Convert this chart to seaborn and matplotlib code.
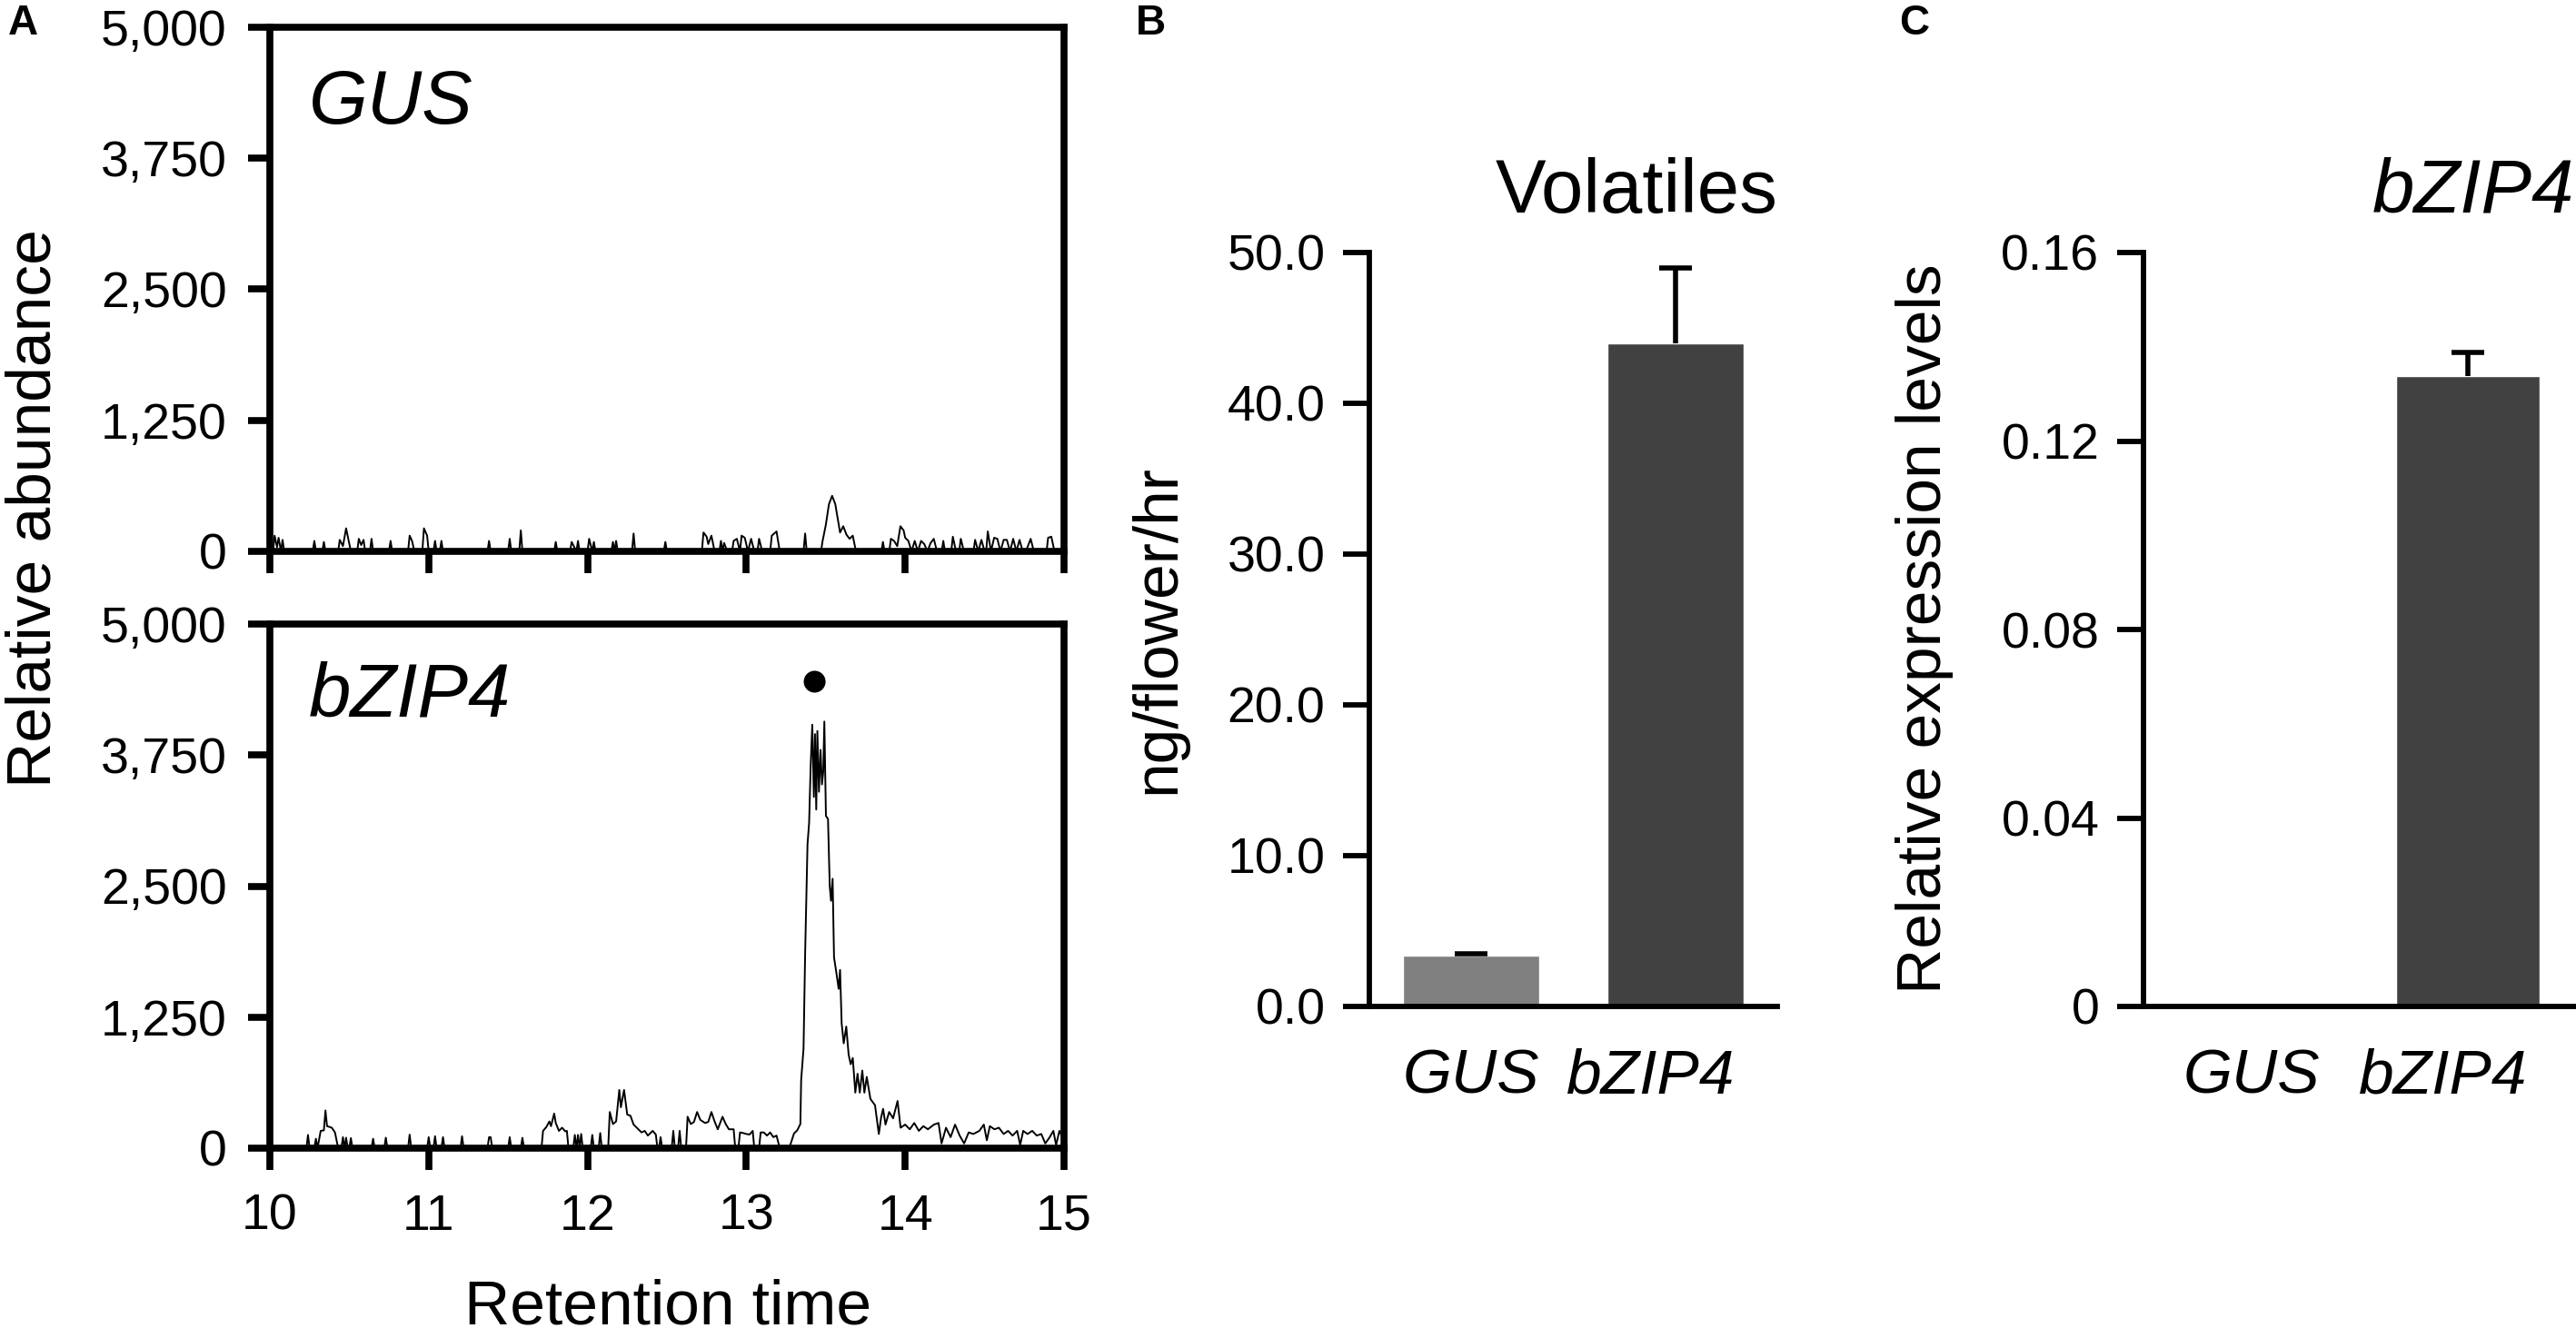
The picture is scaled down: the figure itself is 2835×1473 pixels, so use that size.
import pandas as pd
import matplotlib.pyplot as plt
import matplotlib.ticker as mticker
import matplotlib.transforms as mtransforms
import seaborn as sns

# ---- data ----
# (A) chromatograms, retention time (min) vs relative abundance
gus_time = [10.00, 10.02, 10.03, 10.045, 10.055, 10.07, 10.08, 10.09, 10.27, 10.28,
            10.29, 10.33, 10.34, 10.35, 10.43, 10.44, 10.46, 10.48, 10.495, 10.51,
            10.55, 10.56, 10.575, 10.59, 10.60, 10.63, 10.64, 10.65, 10.75, 10.76,
            10.77, 10.87, 10.88, 10.895, 10.91, 10.96, 10.97, 10.99, 11.00, 11.03,
            11.04, 11.05, 11.07, 11.08, 11.09, 11.37, 11.38, 11.39, 11.50, 11.51,
            11.52, 11.57, 11.58, 11.59, 11.79, 11.80, 11.81, 11.89, 11.90, 11.93,
            11.94, 11.95, 12.00, 12.01, 12.03, 12.04, 12.05, 12.15, 12.16, 12.17,
            12.18, 12.19, 12.28, 12.29, 12.30, 12.48, 12.49, 12.50, 12.72, 12.73,
            12.75, 12.76, 12.78, 12.80, 12.83, 12.84, 12.85, 12.86, 12.88, 12.91,
            12.92, 12.94, 12.96, 12.97, 12.99, 13.01, 13.03, 13.05, 13.07, 13.08,
            13.10, 13.15, 13.16, 13.19, 13.21, 13.36, 13.37, 13.38, 13.47, 13.48,
            13.50, 13.52, 13.54, 13.56, 13.58, 13.59, 13.61, 13.63, 13.65, 13.67,
            13.69, 13.85, 13.86, 13.87, 13.90, 13.91, 13.93, 13.95, 13.97, 13.99,
            14.00, 14.02, 14.04, 14.06, 14.08, 14.10, 14.12, 14.14, 14.16, 14.18,
            14.20, 14.23, 14.24, 14.25, 14.29, 14.30, 14.32, 14.34, 14.35, 14.37,
            14.43, 14.44, 14.46, 14.48, 14.50, 14.51, 14.52, 14.54, 14.56, 14.58,
            14.60, 14.62, 14.64, 14.66, 14.68, 14.70, 14.72, 14.74, 14.76, 14.79,
            14.81, 14.89, 14.90, 14.92, 14.94, 15.00]
gus_abund = [0, 0, 150, 40, 130, 0, 110, 0, 0, 100,
             0, 0, 90, 0, 0, 110, 50, 220, 110, 0,
             0, 120, 60, 110, 0, 0, 120, 0, 0, 100,
             0, 0, 150, 100, 0, 0, 220, 150, 0, 0,
             100, 0, 0, 100, 0, 0, 100, 0, 0, 120,
             0, 0, 200, 0, 0, 90, 0, 0, 90, 0,
             100, 0, 0, 120, 0, 90, 0, 0, 90, 0,
             100, 0, 0, 170, 0, 0, 90, 0, 0, 180,
             140, 70, 150, 0, 0, 100, 0, 80, 0, 0,
             100, 120, 0, 150, 130, 0, 120, 0, 0, 120,
             0, 0, 150, 190, 0, 0, 170, 0, 0, 100,
             250, 450, 530, 450, 270, 180, 240, 160, 120, 150,
             0, 0, 90, 0, 0, 120, 100, 50, 240, 200,
             130, 100, 0, 100, 0, 100, 70, 0, 80, 120,
             0, 0, 100, 0, 0, 140, 0, 0, 120, 0,
             0, 110, 0, 110, 0, 0, 190, 0, 130, 120,
             0, 110, 110, 0, 120, 0, 110, 0, 0, 120,
             0, 0, 130, 140, 0, 0]

bzip_time = [10.00, 10.23, 10.24, 10.25, 10.28, 10.29, 10.30, 10.32, 10.34, 10.35,
             10.36, 10.38, 10.39, 10.41, 10.43, 10.45, 10.46, 10.47, 10.48, 10.49,
             10.50, 10.51, 10.52, 10.64, 10.65, 10.66, 10.72, 10.73, 10.74, 10.87,
             10.88, 10.89, 10.99, 11.00, 11.01, 11.03, 11.04, 11.05, 11.08, 11.09,
             11.10, 11.20, 11.21, 11.22, 11.37, 11.38, 11.39, 11.40, 11.50, 11.51,
             11.52, 11.58, 11.59, 11.60, 11.71, 11.72, 11.74, 11.76, 11.77, 11.79,
             11.80, 11.82, 11.84, 11.86, 11.87, 11.88, 11.91, 11.92, 11.93, 11.94,
             11.95, 11.96, 11.97, 12.02, 12.03, 12.04, 12.07, 12.08, 12.09, 12.13,
             12.14, 12.16, 12.18, 12.20, 12.21, 12.23, 12.25, 12.27, 12.29, 12.32,
             12.34, 12.36, 12.38, 12.41, 12.43, 12.44, 12.45, 12.46, 12.47, 12.53,
             12.54, 12.55, 12.57, 12.58, 12.59, 12.62, 12.63, 12.65, 12.67, 12.69,
             12.71, 12.74, 12.76, 12.78, 12.80, 12.82, 12.85, 12.87, 12.89, 12.92,
             12.93, 12.95, 12.96, 12.98, 13.00, 13.02, 13.04, 13.05, 13.08, 13.09,
             13.11, 13.13, 13.15, 13.17, 13.19, 13.21, 13.27, 13.30, 13.32, 13.34,
             13.345, 13.36, 13.37, 13.385, 13.395, 13.405, 13.415, 13.425, 13.432, 13.44,
             13.447, 13.457, 13.467, 13.476, 13.484, 13.491, 13.501, 13.514, 13.525, 13.533,
             13.543, 13.552, 13.567, 13.581, 13.59, 13.60, 13.613, 13.629, 13.644, 13.657,
             13.67, 13.686, 13.70, 13.714, 13.73, 13.743, 13.758, 13.781, 13.81, 13.834,
             13.848, 13.861, 13.876, 13.899, 13.924, 13.952, 13.971, 14.00, 14.029, 14.057,
             14.086, 14.114, 14.143, 14.181, 14.21, 14.229, 14.257, 14.286, 14.314, 14.343,
             14.371, 14.40, 14.429, 14.467, 14.495, 14.514, 14.533, 14.562, 14.59, 14.62,
             14.648, 14.676, 14.705, 14.724, 14.743, 14.77, 14.80, 14.828, 14.857, 14.882,
             14.91, 14.933, 14.95, 14.971, 14.99, 15.00]
bzip_abund = [0, 0, 126, 0, 0, 90, 0, 165, 170, 360,
              210, 200, 195, 150, 0, 0, 105, 0, 100, 0,
              0, 96, 0, 0, 90, 0, 0, 100, 0, 0,
              129, 0, 0, 105, 0, 0, 114, 0, 0, 105,
              0, 0, 114, 0, 0, 105, 105, 0, 0, 105,
              0, 0, 99, 0, 0, 165, 200, 255, 210, 330,
              240, 165, 195, 160, 165, 0, 0, 126, 0, 126,
              0, 135, 0, 0, 126, 0, 0, 144, 0, 0,
              345, 230, 255, 555, 390, 555, 320, 310, 225, 180,
              150, 165, 120, 165, 130, 0, 0, 105, 0, 0,
              165, 0, 0, 165, 0, 0, 300, 230, 250, 345,
              270, 240, 250, 345, 255, 180, 300, 230, 180, 180,
              0, 0, 150, 144, 135, 130, 165, 0, 0, 150,
              150, 120, 150, 105, 120, 0, 0, 140, 170, 230,
              650, 950, 1850, 2900, 3100, 3650, 4040, 3350, 3950, 3230,
              3980, 3400, 3800, 3470, 3590, 4070, 3170, 3140, 2500, 2360,
              2570, 1820, 1670, 1520, 1700, 1190, 1000, 1160, 890, 800,
              860, 530, 710, 530, 740, 530, 680, 470, 410, 135,
              290, 375, 225, 345, 285, 450, 195, 225, 180, 240,
              165, 210, 180, 225, 240, 45, 195, 105, 225, 120,
              45, 150, 135, 165, 225, 75, 210, 180, 195, 135,
              165, 120, 165, 30, 165, 135, 165, 120, 135, 45,
              105, 165, 30, 165, 105, 0]

# marked peak (dot above the bZIP4 peak)
peak_time = [13.43]
peak_mark = [4450]

# (B) volatile emission, ng/flower/hr
constructs = ["GUS", "bZIP4"]
volatiles = [3.37, 44.0]
volatiles_err = [0.15, 5.0]

# (C) relative expression of bZIP4
expression = [0.0003, 0.1337]
expression_err = [0.0, 0.005]

bar_colors = {"GUS": "#808080", "bZIP4": "#414141"}

W, H = 2835, 1473

sns.set_theme(style="ticks")
plt.rcParams["font.family"] = ["Liberation Sans", "DejaVu Sans"]
plt.rcParams["text.color"] = "black"
plt.rcParams["axes.labelcolor"] = "black"
plt.rcParams["xtick.color"] = "black"
plt.rcParams["ytick.color"] = "black"

fig = plt.figure(figsize=(W / 100, H / 100), dpi=100)


def px_box(left, top, right, bottom):
    return [left / W, 1 - bottom / H, (right - left) / W, (bottom - top) / H]


# ---- panel A ----
ax_top = fig.add_axes(px_box(297, 30, 1171, 607))
ax_bot = fig.add_axes(px_box(297, 687, 1171, 1264))

for ax, t, a in [(ax_top, gus_time, gus_abund), (ax_bot, bzip_time, bzip_abund)]:
    sns.lineplot(x=t, y=a, ax=ax, color="black", linewidth=1.4,
                 estimator=None, sort=False)
    ax.set_xlim(10, 15)
    ax.set_ylim(0, 5000)
    ax.set_xticks([10, 11, 12, 13, 14, 15])
    ax.set_yticks([0, 1250, 2500, 3750, 5000])
    ax.yaxis.set_major_formatter(mticker.StrMethodFormatter("{x:,.0f}"))
    for s in ax.spines.values():
        s.set_linewidth(5.5)
        s.set_color("black")
    ax.tick_params(axis="both", direction="out", length=17, width=5.5,
                   labelsize=40, color="black", labelcolor="black")
    ax.tick_params(axis="y", pad=17)
    ax.tick_params(axis="x", pad=19)
    ax.set_xlabel("")
    ax.set_ylabel("")

ax_top.tick_params(axis="x", labelbottom=False)

sns.scatterplot(x=peak_time, y=peak_mark, ax=ax_bot, color="black",
                s=300, edgecolor="none")

ax_top.text(340 / W, 1 - 136 / H, "GUS", transform=fig.transFigure,
            fontsize=60, style="italic", va="baseline", ha="left")
ax_bot.text(340 / W, 1 - 789 / H, "bZIP4", transform=fig.transFigure,
            fontsize=60, style="italic", va="baseline", ha="left")

fig.text(38 / W, 1 - 560 / H, "Relative abundance", rotation=90,
         ha="center", va="center", fontsize=50)
fig.text(735 / W, 1 - 1458 / H, "Retention time", ha="center",
         va="baseline", fontsize=50)

# ---- panel B ----
ax_b = fig.add_axes(px_box(1507, 278, 1956, 1108))
df_b = pd.DataFrame({"construct": constructs, "value": volatiles})
sns.barplot(data=df_b, x="construct", y="value", hue="construct",
            palette=bar_colors, width=0.667, legend=False, errorbar=None,
            saturation=1, ax=ax_b)
eb = ax_b.errorbar(x=[0, 1], y=volatiles, yerr=[[0, 0], volatiles_err],
                   fmt="none", ecolor="black", elinewidth=4, capsize=13,
                   capthick=4)
eb[1][0].set_visible(False)
ax_b.set_xlim(-0.5, 1.5)
ax_b.set_ylim(0, 50)
ax_b.set_yticks([0, 10, 20, 30, 40, 50])
ax_b.yaxis.set_major_formatter(mticker.StrMethodFormatter("{x:.1f}"))
ax_b.set_ylabel("")
ax_b.set_xlabel("")
fig.text(1274 / W, 1 - 693 / H, "ng/flower/hr", rotation=90,
         ha="center", va="center", fontsize=50)
fig.text(1956 / W, 1 - 234 / H, "Volatiles", ha="right", va="baseline",
         fontsize=60)

# ---- panel C ----
ax_c = fig.add_axes(px_box(2359, 278, 2835, 1108))
df_c = pd.DataFrame({"construct": constructs, "value": expression})
sns.barplot(data=df_c, x="construct", y="value", hue="construct",
            palette=bar_colors, width=0.667, legend=False, errorbar=None,
            saturation=1, ax=ax_c)
ec = ax_c.errorbar(x=[1], y=[expression[1]], yerr=[[0], [expression_err[1]]],
                   fmt="none", ecolor="black", elinewidth=4, capsize=13,
                   capthick=4)
ec[1][0].set_visible(False)
ax_c.set_xlim(-0.5, 1.5)
ax_c.set_ylim(0, 0.16)
ax_c.set_yticks([0, 0.04, 0.08, 0.12, 0.16])
ax_c.set_yticklabels(["0", "0.04", "0.08", "0.12", "0.16"])
ax_c.set_ylabel("")
ax_c.set_xlabel("")
fig.text(2118 / W, 1 - 692 / H, "Relative expression levels", rotation=90,
         ha="center", va="center", fontsize=50)
fig.text(2833 / W, 1 - 234 / H, "bZIP4", ha="right", va="baseline",
         fontsize=60, style="italic")

# category labels sit a little closer together than the bars
shift_left = mtransforms.ScaledTranslation(-0.28, 0, fig.dpi_scale_trans)
for ax in (ax_b, ax_c):
    sns.despine(ax=ax)
    for side in ("left", "bottom"):
        ax.spines[side].set_linewidth(4.2)
        ax.spines[side].set_color("black")
    ax.tick_params(axis="y", direction="out", length=21, width=4.2,
                   labelsize=40, pad=14, color="black", labelcolor="black")
    ax.tick_params(axis="x", length=0, labelsize=50, pad=33,
                   labelcolor="black")
    labels = ax.get_xticklabels()
    for lab in labels:
        lab.set_style("italic")
    labels[1].set_transform(labels[1].get_transform() + shift_left)

# panel letters
for letter, x in [("A", 9), ("B", 1250), ("C", 2090)]:
    fig.text(x / W, 1 - 4 / H, letter, ha="left", va="top",
             fontsize=33, fontweight="bold")

fig.savefig("out.png", dpi=100)
